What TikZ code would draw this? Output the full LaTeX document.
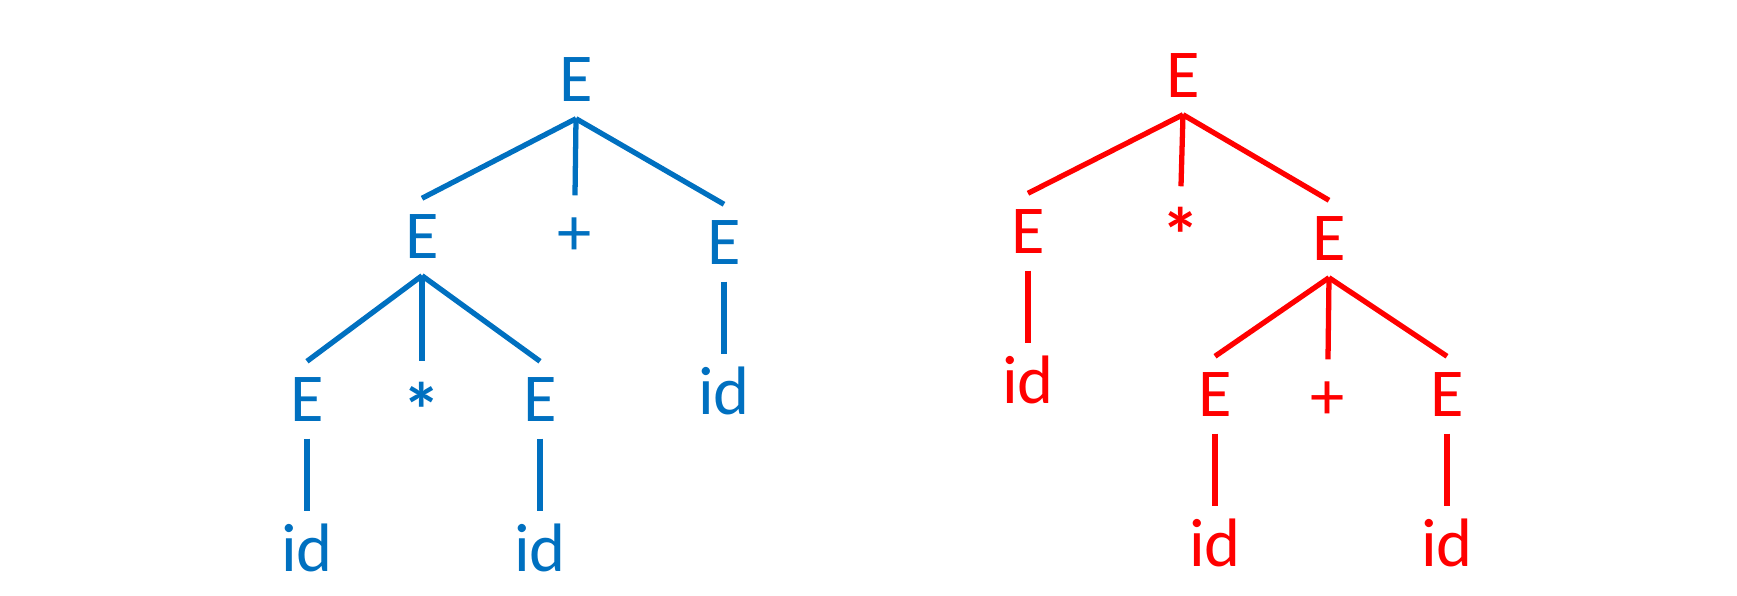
\documentclass[tikz,border=0pt]{standalone}
\usepackage{fontspec}
\setmainfont{Carlito}
\usetikzlibrary{positioning}
\definecolor{treeblue}{RGB}{0,112,192}
\definecolor{treered}{RGB}{255,0,0}
\newcommand{\lowstar}{\raisebox{-1.6mm}{*}}

\begin{document}
\begin{tikzpicture}[
        node distance=0.72cm and 1cm,
        sym/.style={font=\fontsize{19.5}{23}\selectfont, text height=4.4mm, text depth=0pt, inner xsep=1pt, inner ysep=1.6mm},
        bluesym/.style={sym, text=treeblue},
        redsym/.style={sym, text=treered},
        starsym/.style={font=\fontsize{22}{26}\selectfont\bfseries},
        blueline/.style={draw=treeblue, line width=1.5pt},
        redline/.style={draw=treered, line width=1.5pt}
    ]
    \useasboundingbox (0,0) rectangle (17.37,-5.96);

    % Left tree (blue): E + E at the root
    \node[bluesym] (broot) at (5.76,-0.80) {E};
    \node[bluesym] (bleft) at (4.22,-2.37) {E};
    \node[bluesym] (bplus) at (5.75,-2.34) {+};
    \node[bluesym] (bright) at (7.24,-2.43) {E};
    \node[bluesym] (brightid) [below=of bright] {id};

    % E * E below the left E
    \node[bluesym] (bll) at (3.07,-4.00) {E};
    \node[bluesym, starsym] (bstar) at (4.22,-4.00) {\lowstar};
    \node[bluesym] (blr) at (5.40,-4.00) {E};
    \node[bluesym] (bllid) [below=of bll] {id};
    \node[bluesym] (blrid) [below=of blr] {id};

    % Right tree (red): E * E at the root
    \node[redsym] (rroot) at (11.83,-0.76) {E};
    \node[redsym] (rleft) at (10.28,-2.32) {E};
    \node[redsym, starsym] (rstar) at (11.81,-2.25) {\lowstar};
    \node[redsym] (rright) at (13.29,-2.39) {E};
    \node[redsym] (rleftid) [below=of rleft] {id};

    % E + E below the right E
    \node[redsym] (rrl) at (12.15,-3.95) {E};
    \node[redsym] (rplus) at (13.28,-3.98) {+};
    \node[redsym] (rrr) at (14.47,-3.95) {E};
    \node[redsym] (rrlid) [below=of rrl] {id};
    \node[redsym] (rrrid) [below=of rrr] {id};

    % Blue edges
    \draw[blueline] (broot.south) -- (bleft.north);
    \draw[blueline] (broot.south) -- (bplus.north);
    \draw[blueline] (broot.south) -- (bright.north);
    \draw[blueline] (bright.south) -- (brightid.north);
    \draw[blueline] (bleft.south) -- (bll.north);
    \draw[blueline] (bleft.south) -- (bstar.north);
    \draw[blueline] (bleft.south) -- (blr.north);
    \draw[blueline] (bll.south) -- (bllid.north);
    \draw[blueline] (blr.south) -- (blrid.north);

    % Red edges
    \draw[redline] (rroot.south) -- (rleft.north);
    \draw[redline] (rroot.south) -- (rstar.north);
    \draw[redline] (rroot.south) -- (rright.north);
    \draw[redline] (rleft.south) -- (rleftid.north);
    \draw[redline] (rright.south) -- (rrl.north);
    \draw[redline] (rright.south) -- (rplus.north);
    \draw[redline] (rright.south) -- (rrr.north);
    \draw[redline] (rrl.south) -- (rrlid.north);
    \draw[redline] (rrr.south) -- (rrrid.north);

\end{tikzpicture}
\end{document}
